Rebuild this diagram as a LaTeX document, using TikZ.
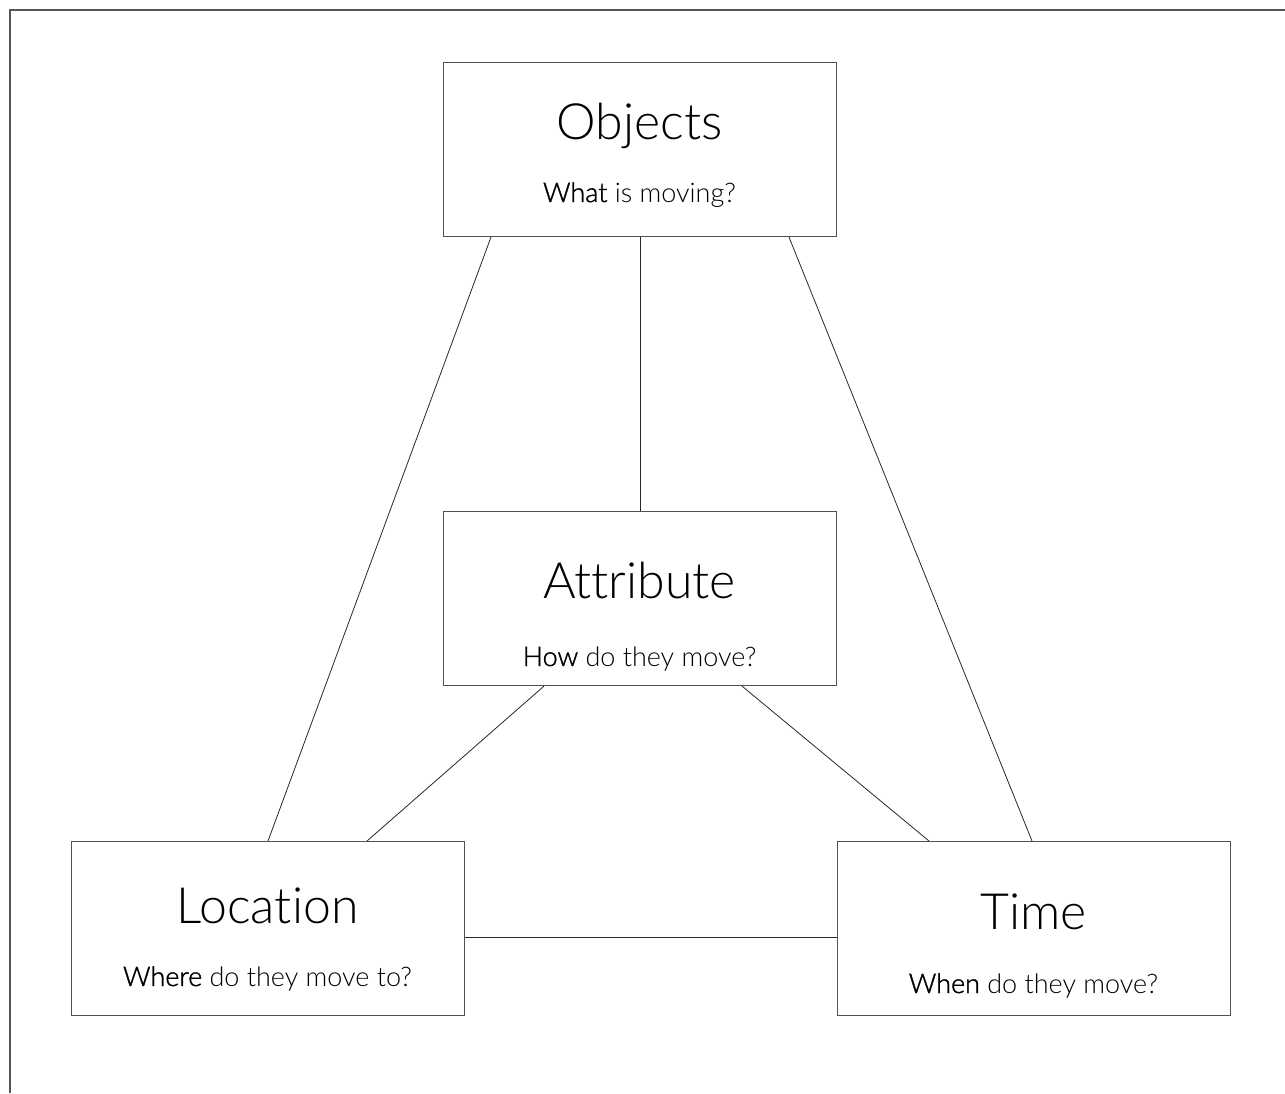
\documentclass[tikz,border=0pt]{standalone}
\usepackage{fontspec}
\setmainfont{Lato}[Ligatures={NoCommon}]
\newfontfamily\thinfont{Lato Light}[Ligatures={NoCommon}]
\newfontfamily\qwordfont{Lato Light}[Ligatures={NoCommon},FakeBold=1.4]
\usetikzlibrary{calc}
\definecolor{framegray}{RGB}{85,85,85}
\definecolor{boxgray}{RGB}{80,80,80}
\definecolor{linegray}{RGB}{40,40,40}
\newcommand\qword[1]{{\qwordfont #1}}
\begin{document}
\begin{tikzpicture}[x=1pt,y=-1pt,
  box/.style={draw=boxgray, line width=1.1pt, minimum width=393pt,
    minimum height=174pt, inner sep=0pt, anchor=north west},
  title/.style={anchor=base, inner sep=0pt, font=\thinfont\fontsize{50}{56}\selectfont},
  question/.style={anchor=base, inner sep=0pt, font=\thinfont\fontsize{27}{31}\selectfont},
  link/.style={draw=linegray, line width=0.8pt}]
\useasboundingbox (0,0) rectangle (1285,1093);
\fill[white] (0,0) rectangle (1285,1093);
% page frame: left and top edges
\draw[framegray, line width=2pt] (9.5,1093) -- (9.5,9.5) -- (1285,9.5);

% boxes
\node[box] (obj)  at (443,62)  {};
\node[box] (attr) at (443,511) {};
\node[box] (loc)  at (71,841)  {};
\node[box] (time) at (837,841) {};

% box texts
\node[title]    (objT)  at (639.5,139) {Objects};
\node[question] (objQ)  at (639.5,202) {\qword{What} is moving?};
\node[title]    (attrT) at (639.5,598) {Attribute};
\node[question] (attrQ) at (639.5,666) {\qword{How} do they move?};
\node[title]    (locT)  at (267.5,923) {Location};
\node[question] (locQ)  at (267.5,986) {\qword{Where} do they move to?};
\node[title]    (timeT) at (1033.5,929) {Time};
\node[question] (timeQ) at (1033.5,993) {\qword{When} do they move?};

% connectors
\draw[link] (obj.south) -- (attr.north);
\draw[link] ([xshift=48pt]obj.south west) -- ([xshift=197pt]loc.north west);
\draw[link] ([xshift=346pt]obj.south west) -- ([xshift=195pt]time.north west);
\draw[link] ([xshift=101pt]attr.south west) -- ([xshift=296pt]loc.north west);
\draw[link] ([xshift=299pt]attr.south west) -- ([xshift=92pt]time.north west);
\draw[link] ([yshift=-9pt]loc.east) -- ([yshift=-9pt]time.west);
\end{tikzpicture}
\end{document}
